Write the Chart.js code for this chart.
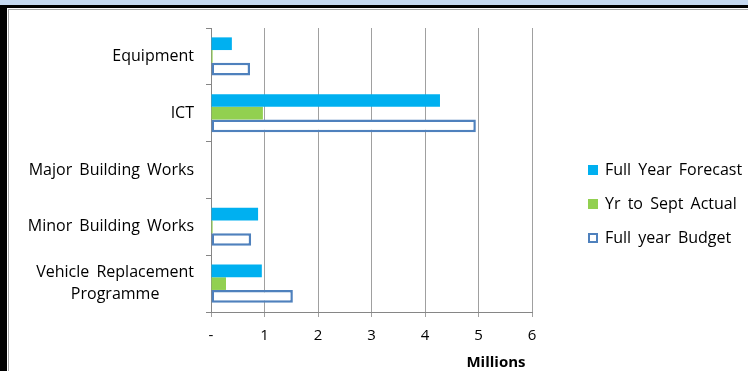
<!DOCTYPE html>
<html>
<head>
<meta charset="utf-8">
<script src="https://cdn.jsdelivr.net/npm/chart.js@4.4.0/dist/chart.umd.min.js"></script>
<style>
html, body { margin: 0; padding: 0; background: #fff; }
#wrap { position: relative; width: 748px; height: 371px; overflow: hidden; }
#chart { position: absolute; left: 0; top: 0; }
.f { position: absolute; }
</style>
</head>
<body>
<div id="wrap">
  <canvas id="chart" width="748" height="371"></canvas>
  <div class="f" style="left:0;top:0;width:748px;height:5px;background:#c6d9f1"></div>
  <div class="f" style="left:0;top:5px;width:748px;height:3px;background:#000"></div>
  <div class="f" style="left:0;top:5px;width:7px;height:366px;background:#000"></div>
  <div class="f" style="left:8px;top:9px;width:740px;height:1px;background:#a6a6a6"></div>
  <div class="f" style="left:8px;top:9px;width:1px;height:362px;background:#a6a6a6"></div>
</div>
<script>
// Capital programme - forecast vs actual vs budget (millions)
const categories = [
    ['Equipment'],
    ['ICT'],
    ['Major Building Works'],
    ['Minor Building Works'],
    ['Vehicle Replacement', 'Programme']
];
const seriesNames = ['Full Year Forecast', 'Yr to Sept Actual', 'Full year Budget'];
const forecast = [0.39, 4.28, 0, 0.88, 0.95];
const actual = [0.03, 0.97, 0, 0.03, 0.28];
const budget = [0.73, 4.95, 0, 0.75, 1.53];
const xTicks = ['-', '1', '2', '3', '4', '5', '6'];
const xTitle = 'Millions';

const FONT = '"Open Sans", "Noto Sans", sans-serif';

function setSpacing(ctx) {
    if ('wordSpacing' in ctx) ctx.wordSpacing = '3px';
}

// rótulos do eixo y: bloco alinhado à direita, linhas centradas (como no Excel)
const yLabels = {
    id: 'yLabels',
    afterDraw(chart) {
        const ctx = chart.ctx;
        const y = chart.scales.y;
        ctx.save();
        ctx.font = '16px ' + FONT;
        setSpacing(ctx);
        ctx.fillStyle = '#000';
        ctx.textBaseline = 'middle';
        ctx.textAlign = 'center';
        const right = y.right - 17;
        const lh = 22;
        categories.forEach((lines, i) => {
            const cy = y.getPixelForValue(i);
            const w = Math.max(...lines.map(l => ctx.measureText(l).width));
            const cx = right - w / 2;
            lines.forEach((l, j) => {
                ctx.fillText(l, cx, cy + (j - (lines.length - 1) / 2) * lh);
            });
        });
        ctx.restore();
    }
};

// legenda à direita + título do eixo x
const sideLegend = {
    id: 'sideLegend',
    afterDraw(chart) {
        const ctx = chart.ctx;
        const a = chart.chartArea;
        const x = a.right + 56;
        const y0 = a.top + 142;
        ctx.save();
        ctx.font = '16px ' + FONT;
        setSpacing(ctx);
        ctx.textBaseline = 'middle';
        ctx.textAlign = 'left';
        chart.data.datasets.forEach((ds, i) => {
            const cy = y0 + i * 34;
            if (ds.borderWidth) {
                ctx.fillStyle = '#fff';
                ctx.fillRect(x, cy - 5, 10, 10);
                ctx.strokeStyle = ds.borderColor;
                ctx.lineWidth = 2;
                ctx.strokeRect(x + 1, cy - 4, 8, 8);
            } else {
                ctx.fillStyle = ds.backgroundColor;
                ctx.fillRect(x, cy - 5, 10, 10);
            }
            ctx.fillStyle = '#000';
            ctx.fillText(ds.label, x + 17, cy);
        });

        ctx.font = 'bold 15px ' + FONT;
        ctx.textAlign = 'center';
        ctx.fillText(xTitle, a.right - 36, 363);
        ctx.restore();
    }
};

const ctx = document.getElementById('chart').getContext('2d');
new Chart(ctx, {
    type: 'bar',
    data: {
        labels: categories,
        datasets: [
            {
                label: seriesNames[0],
                data: forecast,
                backgroundColor: '#00b0f0',
                borderWidth: 0
            },
            {
                label: seriesNames[1],
                data: actual,
                backgroundColor: '#92d050',
                borderWidth: 0
            },
            {
                label: seriesNames[2],
                data: budget,
                backgroundColor: '#ffffff',
                borderColor: '#4f81bd',
                borderWidth: 2.5,
                borderSkipped: false
            }
        ]
    },
    options: {
        indexAxis: 'y',
        responsive: false,
        animation: false,
        categoryPercentage: 0.67,
        barPercentage: 1.0,
        layout: {
            padding: { left: 0, top: 28, right: 216, bottom: 0 }
        },
        plugins: {
            legend: { display: false },
            tooltip: { enabled: false }
        },
        scales: {
            x: {
                min: 0,
                max: 6,
                afterFit: s => { s.height = 59; },
                ticks: {
                    stepSize: 1,
                    padding: 10,
                    color: '#000',
                    font: { family: FONT, size: 15 },
                    callback: (v, i) => xTicks[i]
                },
                grid: { color: '#a0a0a0', tickLength: 5 },
                border: { color: '#868686' }
            },
            y: {
                afterFit: s => { s.width = 211; },
                ticks: { color: 'rgba(0,0,0,0)', font: { family: FONT, size: 16 } },
                grid: { drawOnChartArea: false, color: '#868686', tickLength: 5 },
                border: { color: '#868686' }
            }
        }
    },
    plugins: [yLabels, sideLegend]
});
</script>
</body>
</html>
